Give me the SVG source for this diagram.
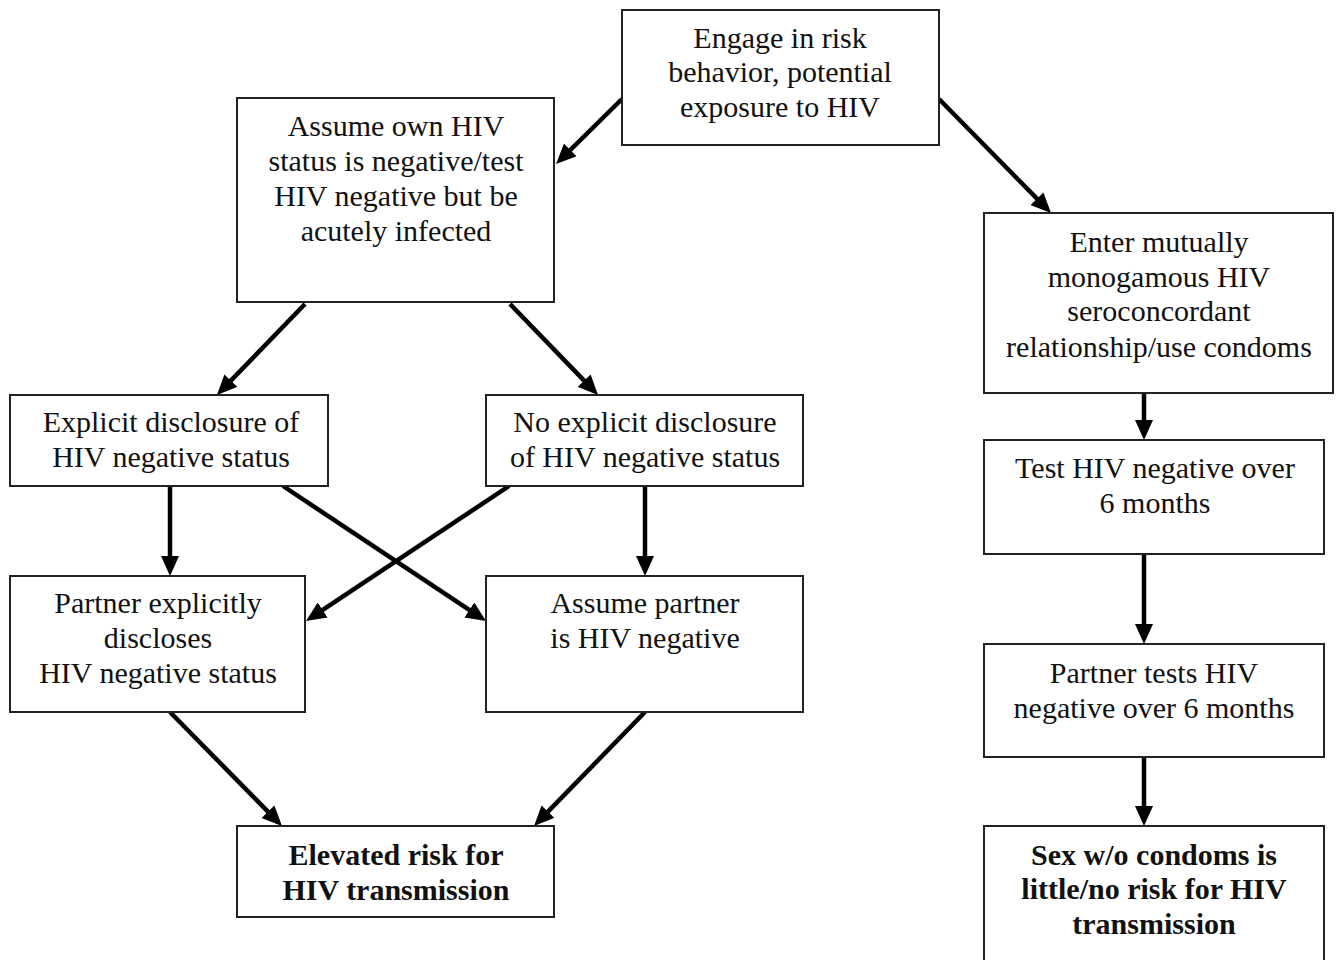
<svg xmlns="http://www.w3.org/2000/svg" width="1341" height="960" viewBox="0 0 1341 960">
<style>
.box{fill:#fff;stroke:#222;stroke-width:2}
.t{font-family:"Liberation Serif","Times New Roman",serif;font-size:30px;fill:#111;text-anchor:middle}
.b{font-weight:bold}
.c{stroke:#000;stroke-width:4.5;fill:none;marker-end:url(#ah)}
</style>
<defs>
<marker id="ah" markerUnits="userSpaceOnUse" markerWidth="20" markerHeight="18" refX="8" refY="9" orient="auto">
<path d="M0,0 L20,9 L0,18 z" fill="#000"/>
</marker>
</defs>
<rect width="1341" height="960" fill="#fff"/>
<g id="connectors">
<line class="c" x1="622" y1="99" x2="564.6" y2="155.6"/>
<line class="c" x1="939" y1="99" x2="1042.6" y2="204.4"/>
<line class="c" x1="305" y1="304" x2="225.3" y2="386.4"/>
<line class="c" x1="510" y1="304" x2="589.7" y2="386.4"/>
<line class="c" x1="170" y1="486" x2="170" y2="564"/>
<line class="c" x1="283" y1="486" x2="476" y2="614.4"/>
<line class="c" x1="509" y1="486" x2="316" y2="614.4"/>
<line class="c" x1="645" y1="486" x2="645" y2="564"/>
<line class="c" x1="170" y1="712" x2="273.6" y2="817.4"/>
<line class="c" x1="645" y1="712" x2="542.4" y2="817.4"/>
<line class="c" x1="1144" y1="372" x2="1144" y2="428"/>
<line class="c" x1="1144" y1="554" x2="1144" y2="632"/>
<line class="c" x1="1144" y1="757" x2="1144" y2="814"/>
</g>
<g id="engage">
<rect class="box" x="622" y="10" width="317" height="135"/>
<text class="t" x="780" y="48">Engage in risk</text>
<text class="t" x="780" y="82">behavior, potential</text>
<text class="t" x="780" y="117">exposure to HIV</text>
</g>
<g id="assume-own">
<rect class="box" x="237" y="98" width="317" height="204"/>
<text class="t" x="396" y="136">Assume own HIV</text>
<text class="t" x="396" y="171">status is negative/test</text>
<text class="t" x="396" y="206">HIV negative but be</text>
<text class="t" x="396" y="241">acutely infected</text>
</g>
<g id="enter">
<rect class="box" x="984" y="213" width="349" height="180"/>
<text class="t" x="1159" y="252">Enter mutually</text>
<text class="t" x="1159" y="287">monogamous HIV</text>
<text class="t" x="1159" y="321">seroconcordant</text>
<text class="t" x="1159" y="357">relationship/use condoms</text>
</g>
<g id="explicit">
<rect class="box" x="10" y="395" width="318" height="91"/>
<text class="t" x="171" y="432">Explicit disclosure of</text>
<text class="t" x="171" y="467">HIV negative status</text>
</g>
<g id="no-explicit">
<rect class="box" x="486" y="395" width="317" height="91"/>
<text class="t" x="645" y="432">No explicit disclosure</text>
<text class="t" x="645" y="467">of HIV negative status</text>
</g>
<g id="test">
<rect class="box" x="984" y="440" width="340" height="114"/>
<text class="t" x="1155" y="478">Test HIV negative over</text>
<text class="t" x="1155" y="513">6 months</text>
</g>
<g id="partner-explicit">
<rect class="box" x="10" y="576" width="295" height="136"/>
<text class="t" x="158" y="613">Partner explicitly</text>
<text class="t" x="158" y="648">discloses</text>
<text class="t" x="158" y="683">HIV negative status</text>
</g>
<g id="assume-partner">
<rect class="box" x="486" y="576" width="317" height="136"/>
<text class="t" x="645" y="613">Assume partner</text>
<text class="t" x="645" y="648">is HIV negative</text>
</g>
<g id="partner-tests">
<rect class="box" x="984" y="644" width="340" height="113"/>
<text class="t" x="1154" y="683">Partner tests HIV</text>
<text class="t" x="1154" y="718">negative over 6 months</text>
</g>
<g id="elevated">
<rect class="box" x="237" y="826" width="317" height="91"/>
<text class="t b" x="396" y="865">Elevated risk for</text>
<text class="t b" x="396" y="900">HIV transmission</text>
</g>
<g id="sex">
<rect class="box" x="984" y="826" width="340" height="150"/>
<text class="t b" x="1154" y="865">Sex w/o condoms is</text>
<text class="t b" x="1154" y="899">little/no risk for HIV</text>
<text class="t b" x="1154" y="934">transmission</text>
</g>
</svg>
